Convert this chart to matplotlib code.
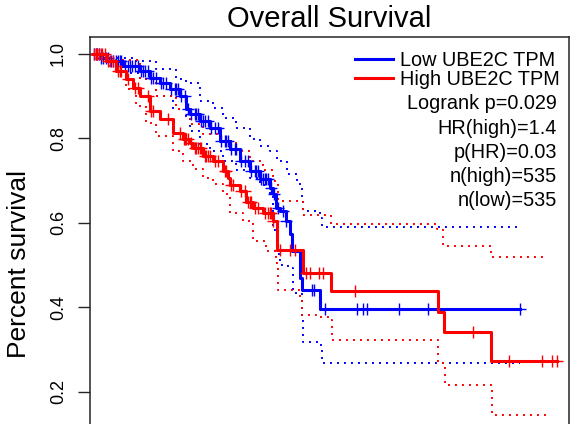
import matplotlib.pyplot as plt
import numpy as np
from matplotlib.lines import Line2D

plt.rcParams["font.family"] = ["Liberation Sans", "DejaVu Sans"]

W, H = 578, 424
BLUE, RED, FRAME = "#0000ff", "#ff0000", "#262626"

# Kaplan-Meier steps (time in months, survival fraction)
low_t = [0, 4, 10, 18, 28, 34, 40, 46, 52, 56, 58, 64, 70, 76, 82, 88, 94,
         100, 106, 108, 109.5, 112, 116, 118, 119.5, 124.2, 125.4, 136.2, 256.2]
low_s = [1.0, .991, .983, .972, .960, .943, .931, .917, .901, .870, .858, .842,
         .825, .794, .775, .747, .723, .704, .683, .669, .636, .629, .605, .574,
         .534, .470, .440, .395, .395]

high_t = [0, 8, 14, 20, 24, 28, 34, 40, 48, 54, 58, 60, 66, 72, 78, 81, 82, 88,
          92, 96, 102, 108, 110.5, 126, 143, 207, 210.5, 239, 278.5]
high_s = [1.0, .983, .960, .941, .920, .901, .865, .846, .813, .799, .790, .778,
          .759, .747, .723, .707, .690, .676, .650, .636, .622, .605, .536, .482,
          .438, .388, .341, .273, .273]

# 95% confidence bands
low_up_t = [0, 10, 26, 38, 50, 56, 64, 72, 78, 86, 94, 100, 106, 110.4, 116.4,
            122.4, 125.4, 126, 136.2, 137.4, 254.4]
low_up_s = [1.0, .991, .983, .965, .941, .931, .889, .872, .849, .825, .799,
            .783, .771, .747, .716, .693, .660, .629, .612, .589, .589]
low_lo_t = [0, 6, 14, 20, 28, 38, 48, 56, 58, 64, 70, 78, 86, 94, 100, 106,
            108, 110.4, 112, 117, 120, 125.4, 126, 136.2, 137.4, 256.2]
low_lo_s = [1.0, .985, .970, .955, .941, .901, .870, .846, .818, .787, .771,
            .747, .725, .705, .690, .665, .582, .527, .499, .494, .433, .369,
            .317, .310, .267, .267]

high_up_t = [0, 10, 28, 38, 50, 58, 66, 76, 86, 94, 102, 108, 111, 126, 142.8,
             206.4, 210, 238.8, 272.4]
high_up_s = [1.0, .985, .941, .901, .870, .835, .811, .794, .771, .747, .725,
             .700, .652, .619, .598, .586, .546, .518, .518]
high_lo_t = [0, 6, 10, 20, 26, 32, 38, 48, 54, 60, 66, 72, 78, 82, 90, 96, 104,
             110, 111, 124, 125.5, 134, 142, 143.5, 207, 211, 239.5, 274]
high_lo_s = [1.0, .985, .972, .917, .877, .837, .806, .771, .747, .728, .707,
             .693, .669, .622, .605, .558, .534, .504, .440, .423, .381, .376,
             .369, .322, .267, .215, .144, .144]

# censoring times
low_cens = [0.5, 1.5, 2.5, 3.5, 5, 6, 7.5, 9, 11, 12, 13.5, 15, 16, 17, 19, 21,
            22, 23.5, 25, 27, 29, 30, 31, 33, 35, 36, 37.5, 41, 42, 44, 47, 49,
            50, 51, 53, 55, 57, 59, 61, 62, 63, 65, 66, 67, 69, 71, 73, 75, 77,
            79, 80, 81, 83, 85, 86, 89, 91, 93, 95, 97, 98, 99, 101, 102, 103,
            104, 105, 107, 108.5, 111, 114, 116, 131.4, 132.6, 139, 158.4, 162,
            164.4, 183.6, 201, 256.2]
high_cens = [0.5, 1.5, 2.5, 3.5, 4.5, 5.5, 7, 9, 10, 12, 15, 16, 17, 21, 25, 27,
             33, 35, 36, 45, 52, 54.5, 55, 56, 57, 58.5, 61, 62, 63, 64, 65, 67,
             68, 69, 70, 73, 75, 79, 80, 83, 84, 89, 91, 93, 94, 95, 97, 99, 103,
             105, 106, 107, 108, 112, 118, 121, 128, 130, 135.6, 138, 157, 228,
             249.6, 269.4, 275.4, 278.4]

yticks = [0.2, 0.4, 0.6, 0.8, 1.0]
stats = ["Logrank p=0.029", "HR(high)=1.4", "p(HR)=0.03",
         "n(high)=535", "n(low)=535"]


def step_at(t, s, x):
    idx = np.searchsorted(t, x, side="right") - 1
    return np.asarray(s)[idx]


fig = plt.figure(figsize=(W / 100, H / 100), dpi=100)
# axes box runs past the bottom of the image, as in the cropped original
top, bottom = 37, 493
ax = fig.add_axes([90 / W, 1 - bottom / H, (569 - 90) / W, (bottom - top) / H])

dots = dict(lw=1.4, dashes=(1, 2.6))
ax.plot(low_up_t, low_up_s, drawstyle="steps-post", color=BLUE, **dots)
ax.plot(low_lo_t, low_lo_s, drawstyle="steps-post", color=BLUE, **dots)
ax.plot(high_up_t, high_up_s, drawstyle="steps-post", color=RED, **dots)
ax.plot(high_lo_t, high_lo_s, drawstyle="steps-post", color=RED, **dots)

ax.plot(low_t, low_s, drawstyle="steps-post", color=BLUE, lw=2.2)
ax.plot(low_cens, step_at(low_t, low_s, low_cens), ls="none", marker="+",
        ms=9, mew=1.0, color=BLUE)
ax.plot(high_t, high_s, drawstyle="steps-post", color=RED, lw=2.2)
ax.plot(high_cens, step_at(high_t, high_s, high_cens), ls="none", marker="+",
        ms=9, mew=1.0, color=RED)

ax.set_xlim(-1.8, 285.6)
ax.set_ylim(-0.04, 1.04)
ax.set_xticks([])
ax.set_yticks(yticks)
ax.set_yticklabels([f"{v:.1f}" for v in yticks])
ax.tick_params(axis="y", length=8.6, width=1.0, color=FRAME, pad=8,
               labelsize=13, labelrotation=90)
for lbl in ax.get_yticklabels():
    lbl.set_va("center")
for sp in ax.spines.values():
    sp.set_linewidth(1.1)
    sp.set_color(FRAME)

fig.text(329.5 / W, 1 - 27 / H, "Overall Survival", ha="center",
         va="baseline", fontsize=21)
fig.text(19 / W, 1 - 263.5 / H, "Percent survival", rotation=90,
         ha="center", va="center", fontsize=19)

# legend drawn by hand to match the tight R layout
for yy, col, lab in [(59, BLUE, "Low UBE2C TPM"), (78, RED, "High UBE2C TPM")]:
    fig.add_artist(Line2D([355 / W, 393 / W], [1 - yy / H, 1 - yy / H],
                          color=col, lw=2.2))
    fig.text(400 / W, 1 - (yy + 7) / H, lab, ha="left", va="baseline",
             fontsize=14.3)
for i, txt in enumerate(stats):
    fig.text(557 / W, 1 - (109.5 + 24 * i) / H, txt, ha="right",
             va="baseline", fontsize=14.3)

fig.savefig("out.png", dpi=100)
